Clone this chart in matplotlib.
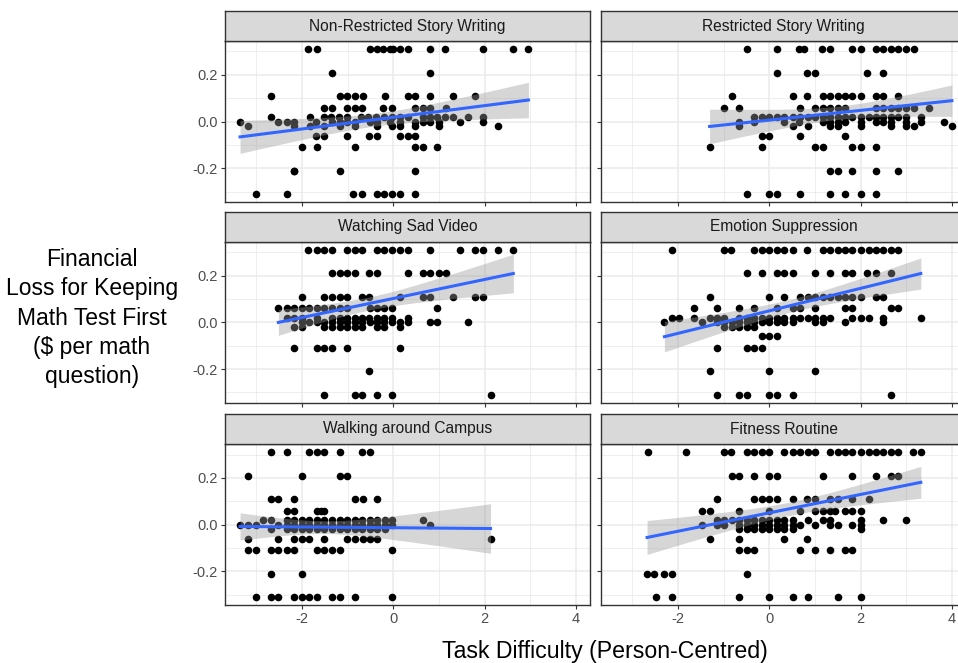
import numpy as np
import matplotlib.pyplot as plt

plt.rcParams['font.family'] = ['Liberation Sans', 'DejaVu Sans']
plt.rcParams['axes.unicode_minus'] = False

# y levels shared by every panel (values are discrete)
y_levels = [0.31, 0.21, 0.11, 0.06, 0.02, 0.0, -0.02, -0.06, -0.11, -0.21, -0.31]

# task difficulty values, one list per y level
non_restricted = [
    [-1.86, -1.68, -0.51, -0.36, -0.22, -0.07, 0.0, 0.15, 0.33, 0.80, 1.13, 1.97, 2.63, 2.96],
    [-1.35, 0.80],
    [-2.68, -1.18, -1.02, -0.84, -0.67, -0.18, 0.31, 0.47, 0.80, 1.31, 1.80],
    [-1.53, -1.35, -1.02, -0.85, -0.68, -0.22, -0.02, 0.47, 0.64, 0.80, 1.15],
    [-2.68, -1.82, -1.53, -1.36, -1.20, -1.02, -0.71, -0.55, -0.38, -0.20, -0.02, 0.15, 0.31,
     0.64, 0.80, 0.96, 1.13, 1.31, 1.64, 1.97],
    [-3.36, -2.52, -2.34, -2.18, -1.69, -1.35, -1.18, -1.02, -0.85, -0.51, -0.36, -0.07, 0.15,
     0.47, 0.66, 0.80, 0.99, 1.47, 1.97],
    [-3.18, -2.18, -1.82, -1.53, -1.18, -0.85, -0.36, -0.02, 0.15, 0.47, 0.99, 2.30],
    [-1.69, -1.51, -1.02, -0.53, -0.35, 0.15, 0.31, 0.47],
    [-2.01, -1.68, -0.85, 0.47, 0.64, 0.96],
    [-2.18, -2.18, -1.18, 0.47],
    [-3.01, -2.34, -0.88, -0.69, -0.36, -0.20, -0.04, 0.15, 0.47],
]

restricted = [
    [-0.49, 0.17, 0.66, 0.77, 1.15, 1.34, 1.82, 2.01, 2.34, 2.50, 2.66, 2.83, 2.99, 3.18],
    [0.17, 0.82, 1.00, 2.15, 2.50],
    [-0.82, 0.51, 0.82, 1.17, 1.34, 1.50, 1.66, 1.82, 2.01, 2.34, 2.50, 2.83],
    [-0.99, -0.66, 0.67, 1.00, 1.17, 1.34, 1.50, 1.66, 2.34, 2.50, 2.66, 2.83, 2.99, 3.18, 3.49],
    [-0.33, -0.16, 0.0, 0.17, 0.33, 0.51, 0.67, 0.84, 1.00, 1.17, 1.34, 1.50, 1.66, 1.82, 2.01,
     2.18, 2.34, 2.50, 2.66, 2.83, 2.99, 3.32],
    [-0.66, -0.33, 0.33, 0.66, 1.17, 1.34, 1.50, 1.66, 2.01, 2.34, 2.50, 2.66, 2.99, 3.32, 3.83],
    [-0.66, 0.51, 0.84, 1.34, 1.50, 2.01, 2.66, 2.99, 3.18, 4.00],
    [-0.16, 0.0, 0.67, 1.66],
    [-1.31, -0.16, 1.00, 1.17, 1.82, 2.01, 2.34],
    [1.34, 1.50, 1.82, 2.34, 2.83],
    [-0.49, 0.0, 0.17, 0.67, 1.34, 1.66, 2.01, 2.34],
]

sad_video = [
    [-1.86, -1.68, -1.51, -1.35, -1.02, -0.85, -0.69, -0.36, -0.20, -0.04, 0.15, 0.31, 0.80,
     1.47, 1.80, 1.97, 2.30, 2.63],
    [-1.35, -1.18, -1.02, -0.85, -0.53, -0.36, 0.31, 0.64, 0.80, 0.99, 1.15],
    [-2.01, -1.51, -1.35, -1.18, -1.02, -0.69, -0.53, 0.15, 0.64, 0.80, 1.31, 1.80, 1.97],
    [-2.52, -2.34, -2.18, -2.01, -1.84, -1.68, -1.51, -1.35, -1.18, -1.02, -0.51, -0.36, -0.20,
     -0.02, 0.96],
    [-2.34, -2.18, -2.01, -1.68, -1.35, -1.18, -1.02, -0.85, -0.69, -0.53, -0.36, -0.20, -0.02, 0.31],
    [-2.01, -1.84, -1.68, -1.53, -1.35, -1.18, -1.02, -0.85, -0.69, -0.51, -0.36, -0.20, -0.02,
     0.15, 0.31, 0.80, 0.96, 1.64],
    [-2.18, -2.01, -1.51, -1.35, -1.18, -1.02, -0.85, -0.69, -0.36, -0.20, 0.15],
    [],
    [-2.18, -1.68, -1.51, -1.35, -1.02, 0.15],
    [-0.53],
    [-1.51, -0.85, -0.69, -0.36, -0.02, 2.13],
]

emotion = [
    [-2.13, -1.00, -0.84, -0.33, -0.17, 0.0, 0.17, 0.33, 0.51, 0.82, 1.17, 1.34, 1.50, 1.66,
     1.82, 2.01, 2.18, 2.34, 2.50, 2.66, 2.83],
    [-0.49, -0.16, 0.17, 0.33, 0.51, 1.00, 1.34, 1.66, 1.82, 2.15, 2.34, 2.66],
    [-1.31, 0.0, 0.33, 0.67, 0.84, 1.00, 1.17, 1.34, 1.50, 1.66, 1.82, 2.01, 2.34, 2.50],
    [-1.66, -1.15, -0.66, -0.33, 0.17, 0.51, 0.67, 1.00, 1.66, 1.82, 2.66, 2.83],
    [-2.13, -1.99, -1.66, -1.31, -1.15, -0.99, -0.66, -0.49, -0.33, -0.16, 0.0, 0.17, 0.33, 0.51,
     0.67, 0.84, 1.00, 1.17, 1.34, 1.82, 2.01, 2.18, 2.50, 3.32],
    [-2.30, -1.47, -1.15, -0.99, -0.82, -0.66, -0.49, -0.33, -0.16, 0.0, 0.17, 0.33, 0.51, 1.00,
     1.17, 1.66, 2.50],
    [-0.99, -0.82, -0.66, -0.49, -0.33],
    [-0.16, 0.0, 0.17],
    [-1.15, -0.49, -0.33, -0.16],
    [-1.31, 0.0, 1.00],
    [-1.15, -0.66, -0.49, 0.0, 0.17, 0.51, 2.66],
]

walking = [
    [-2.68, -2.34, -1.84, -1.68, -1.51, -1.18, -0.69, -0.51],
    [-3.18, -2.01, -1.18, -1.02],
    [-2.68, -2.52, -2.18, -0.85, -0.67, -0.35],
    [-2.34, -2.18, -1.68, -1.58, -1.51],
    [-2.85, -2.68, -2.34, -2.18, -2.01, -1.84, -1.68, -1.51, -1.35, -1.18, -1.02, -0.85, -0.69,
     -0.51, -0.35, -0.18, -0.02, 0.64],
    [-3.36, -3.18, -3.01, -2.52, -2.34, -2.18, -2.01, -1.84, -1.68, -1.51, -1.35, -1.18, -1.02,
     -0.85, -0.69, -0.51, -0.35, -0.18, -0.02, 0.80],
    [-2.68, -2.34, -2.18, -2.01, -1.84, -1.68, -1.51, -1.35, -1.18, -1.02, -0.85, -0.69, -0.51,
     -0.35, -0.18],
    [-3.18, -2.52, -2.18, -2.01, -1.84, -1.51, -1.02, -0.85, -0.67, -0.51, -0.35, 2.13],
    [-3.18, -3.01, -2.68, -2.52, -2.34, -2.18, -1.68, -1.51, -1.35, -1.18, -0.02],
    [-2.68, -2.01],
    [-3.01, -2.68, -2.52, -2.18, -2.01, -1.84, -1.68, -1.35, -1.18, -0.85, -0.02],
]

fitness = [
    [-2.65, -1.82, -0.99, -0.84, -0.49, -0.33, -0.17, 0.0, 0.33, 0.51, 0.67, 0.84, 1.00, 1.34,
     1.50, 1.66, 1.82, 2.01, 2.18, 2.34, 2.50, 2.66, 2.83, 3.14, 3.32],
    [-0.82, -0.66, -0.33, 0.0, 0.17, 1.17, 1.82, 2.34, 2.66, 2.83],
    [-1.15, -0.33, -0.16, 0.0, 0.17, 0.51, 0.82, 1.00, 1.34, 1.50, 1.82, 2.18],
    [-1.47, -1.31, -0.66, 0.0, 0.67, 1.00, 1.17, 1.34, 1.44, 1.66, 1.82, 2.01],
    [-1.15, -0.99, -0.82, -0.66, -0.49, -0.33, -0.16, 0.0, 0.17, 0.33, 0.51, 0.84, 1.17, 1.34,
     2.01, 2.50, 2.99],
    [-1.47, -1.15, -0.99, -0.66, -0.49, -0.33, -0.16, 0.0, 0.17, 0.33, 0.51, 0.67, 1.00, 1.34,
     1.50, 1.82, 2.01],
    [-0.66, -0.49, -0.33, -0.16, 0.0, 0.17, 0.33, 0.51, 2.01],
    [-1.31, -0.66, 0.33, 0.82],
    [-0.66, -0.49, -0.33, 0.67, 1.00, 1.34, 1.66, 1.82],
    [-2.68, -2.52, -2.31, -2.13, -0.49],
    [-2.48, -2.13, -0.66, 0.0, 0.51, 0.84, 1.50, 2.01],
]

panel_titles = ["Non-Restricted Story Writing", "Restricted Story Writing",
                "Watching Sad Video", "Emotion Suppression",
                "Walking around Campus", "Fitness Routine"]
panel_data = [non_restricted, restricted, sad_video, emotion, walking, fitness]

# smooth line (many points overlap, so refit drifts)
fit_intercept = [0.018, 0.006, 0.103, 0.050, -0.0138, 0.050]
fit_slope = [0.025, 0.0208, 0.0407, 0.0482, -0.0016, 0.0394]


def flatten(rows):
    xs, ys = [], []
    for yv, row in zip(y_levels, rows):
        xs += row
        ys += [yv] * len(row)
    return np.array(xs), np.array(ys)


def lm_band(x, y, b0, b1):
    # 95% CI like geom_smooth(method="lm")
    n = len(x)
    xs = np.linspace(x.min(), x.max(), 80)
    fit = b0 + b1 * xs
    resid = y - (b0 + b1 * x)
    s = np.sqrt(np.sum(resid ** 2) / (n - 2))
    se = s * np.sqrt(1 / n + (xs - x.mean()) ** 2 / np.sum((x - x.mean()) ** 2))
    t = 1.976
    return xs, fit, fit - t * se, fit + t * se


W, H = 958, 663
fig = plt.figure(figsize=(W / 100, H / 100), dpi=100)

col_left = [225, 601]
row_top = [41, 242, 444]
pw, ph, strip_h = 365, 161, 30

for i, (title, rows) in enumerate(zip(panel_titles, panel_data)):
    r, c = divmod(i, 2)
    left = col_left[c] / W
    bottom = 1 - (row_top[r] + ph) / H
    ax = fig.add_axes([left, bottom, pw / W, ph / H])

    x, y = flatten(rows)
    ax.scatter(x, y, s=30, color="black", linewidths=0, zorder=2)
    xs, fit, lo, hi = lm_band(x, y, fit_intercept[i], fit_slope[i])
    ax.fill_between(xs, lo, hi, color="#999999", alpha=0.4, linewidth=0, zorder=3)
    ax.plot(xs, fit, color="#3366FF", lw=2.2, zorder=4)

    ax.set_xlim(-3.69, 4.31)
    ax.set_ylim(-0.345, 0.345)
    ax.set_xticks([-2, 0, 2, 4])
    ax.set_xticks([-3, -1, 1, 3], minor=True)
    ax.set_yticks([-0.2, 0.0, 0.2])
    ax.set_yticks([-0.3, -0.1, 0.1, 0.3], minor=True)
    ax.set_yticklabels(["-0.2", "0.0", "0.2"])
    ax.grid(which="major", color="#EBEBEB", lw=1.1, zorder=0)
    ax.grid(which="minor", color="#EBEBEB", lw=0.6, zorder=0)
    ax.set_axisbelow(True)
    ax.tick_params(which="major", length=3, width=0.8, color="#333333",
                   labelcolor="#4D4D4D", labelsize=10.5, pad=2)
    ax.tick_params(which="minor", length=0)
    if c == 1:
        ax.tick_params(labelleft=False)
    if r < 2:
        ax.tick_params(labelbottom=False)
    for sp in ax.spines.values():
        sp.set_color("#333333")
        sp.set_linewidth(1.0)

    # facet strip
    sax = fig.add_axes([left, 1 - row_top[r] / H, pw / W, strip_h / H])
    sax.set_facecolor("#D9D9D9")
    sax.set_xticks([])
    sax.set_yticks([])
    for sp in sax.spines.values():
        sp.set_color("#333333")
        sp.set_linewidth(1.0)
    sax.text(0.5, 0.5, title, ha="center", va="center", fontsize=11.2, color="#1A1A1A")

fig.text(92 / W, 1 - 318 / H,
         "Financial\nLoss for Keeping\nMath Test First\n($ per math\nquestion)",
         ha="center", va="center", fontsize=16.5, linespacing=1.35)
fig.text(605 / W, 1 - 658 / H, "Task Difficulty (Person-Centred)",
         ha="center", va="baseline", fontsize=16.7)

fig.savefig("out.png", dpi=100, facecolor="white")
